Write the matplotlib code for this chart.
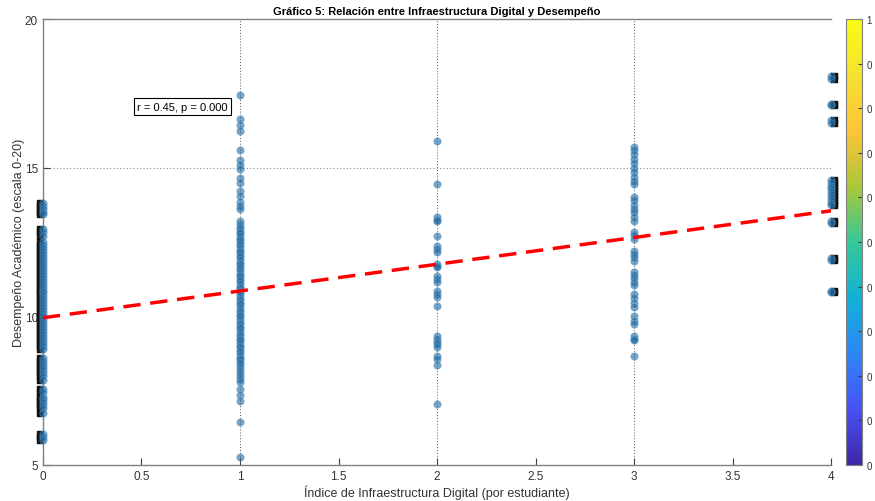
import numpy as np
import matplotlib
matplotlib.use("Agg")
import matplotlib.pyplot as plt
import matplotlib.transforms as mtransforms
from matplotlib.colors import LinearSegmentedColormap

plt.rcParams['font.family'] = ['Liberation Sans', 'DejaVu Sans']

# data
y_idx0 = [13.8, 13.7, 13.6, 13.5, 13.45, 12.95, 12.85, 12.7, 12.5, 12.4, 12.3, 12.2,
          12.1, 12.0, 11.9, 11.8, 11.7, 11.6, 11.5, 11.4, 11.3, 11.2, 11.1, 11.0,
          10.9, 10.8, 10.7, 10.6, 10.5, 10.4, 10.3, 10.2, 10.1, 10.0, 9.9, 9.8,
          9.7, 9.6, 9.5, 9.4, 9.3, 9.2, 9.1, 9.0, 8.9, 8.6, 8.5, 8.4, 8.3, 8.2,
          8.1, 8.0, 7.85, 7.55, 7.45, 7.3, 7.2, 7.1, 7.0, 6.9, 6.75, 6.05, 5.95, 5.85]
y_idx1 = [17.45, 16.65, 16.45, 16.25, 15.6, 15.25, 15.1, 14.95, 14.65, 14.5, 14.2,
          14.05, 13.85, 13.7, 13.6,
          13.2, 13.1, 13.0, 12.95, 12.85, 12.8, 12.7, 12.6, 12.55, 12.45, 12.4, 12.3,
          12.2, 12.15, 12.05, 12.0, 11.9, 11.8, 11.75, 11.65, 11.6, 11.5, 11.4, 11.35,
          11.25, 11.2, 11.1, 11.0, 10.95, 10.85, 10.8, 10.7, 10.6, 10.55, 10.45, 10.4,
          10.3, 10.2, 10.15, 10.05, 10.0, 9.9, 9.8, 9.75, 9.65, 9.6, 9.5, 9.4, 9.35,
          9.25, 9.2, 9.1, 9.0, 8.95, 8.85, 8.8, 8.7, 8.6, 8.55, 8.45, 8.4, 8.3, 8.2,
          8.1, 8.0, 7.9, 7.8, 7.55, 7.35, 7.15, 6.45, 5.25]
y_idx2 = [15.9, 14.45, 13.35, 13.25, 13.2, 12.7, 12.35, 12.25, 12.15, 11.75, 11.7,
          11.65, 11.35, 11.25, 11.15, 10.85, 10.75, 10.65, 10.35, 9.35, 9.25, 9.15,
          9.05, 8.95, 8.65, 8.55, 8.35, 7.05]
y_idx3 = [15.7, 15.6, 15.45, 15.3, 15.15, 15.0, 14.85, 14.7, 14.55, 14.45, 14.0, 13.9,
          13.75, 13.6, 13.5, 13.35, 13.2, 12.85, 12.75, 12.6, 12.2, 12.1, 12.0, 11.85,
          11.5, 11.4, 11.3, 11.15, 11.05, 10.75, 10.6, 10.45, 10.3, 10.0, 9.85, 9.75,
          9.35, 9.25, 9.2, 8.65]
y_idx4 = [18.1, 18.0, 17.15, 17.1, 16.6, 16.5, 14.6, 14.5, 14.4, 14.3, 14.2, 14.1,
          14.0, 13.9, 13.8, 13.75, 13.2, 13.15, 11.95, 11.9, 10.85, 10.8]
groups = {0: y_idx0, 1: y_idx1, 2: y_idx2, 3: y_idx3, 4: y_idx4}

fit_intercept = 9.95
fit_slope = 0.90
fit_x = [0, 4]
annot_text = "r = 0.45, p = 0.000"

x_ticks = [0, 0.5, 1, 1.5, 2, 2.5, 3, 3.5, 4]
y_ticks = [5, 10, 15, 20]

# parula-like colormap
parula = LinearSegmentedColormap.from_list("parula", [
    (0.2422, 0.1504, 0.6603), (0.2810, 0.3228, 0.9579), (0.1786, 0.5289, 0.9682),
    (0.0689, 0.6948, 0.8394), (0.2161, 0.7843, 0.5923), (0.6720, 0.7793, 0.2227),
    (0.9970, 0.7659, 0.2199), (0.9598, 0.8840, 0.1887), (0.9769, 0.9839, 0.0805)])

fig = plt.figure(figsize=(8.75, 5.02), dpi=100)
ax = fig.add_axes([0.049, 0.072, 0.901, 0.888])
cax = fig.add_axes([0.967, 0.072, 0.018, 0.888])

blue = '#1f67a0'
for xv, ys in groups.items():
    xs = np.full(len(ys), xv, dtype=float)
    if xv in (0, 4):
        shift = -2 if xv == 0 else 2
        off = mtransforms.ScaledTranslation(shift / 72, 0, fig.dpi_scale_trans)
        ax.scatter(xs, ys, marker='s', s=14, color='#111111', clip_on=False,
                   transform=ax.transData + off, zorder=2)
    ax.scatter(xs, ys, s=28, facecolor=blue, edgecolor='#5b9bc8', alpha=0.6,
               linewidths=0.6, clip_on=False, zorder=3)

fx = np.array(fit_x, dtype=float)
ax.plot(fx, fit_intercept + fit_slope * fx, color='red', linestyle='--',
        linewidth=2.5, dashes=(5, 2.8), zorder=4)

ax.text(0.48, 17.05, annot_text, fontsize=8, va='center', ha='left',
        bbox=dict(boxstyle='square,pad=0.3', facecolor='white', edgecolor='black',
                  linewidth=0.8), zorder=5)

ax.set_xlim(0, 4)
ax.set_ylim(5, 20)
ax.set_xticks(x_ticks)
ax.set_xticklabels(['0', '0.5', '1', '1.5', '2', '2.5', '3', '3.5', '4'])
ax.set_yticks(y_ticks)
ax.tick_params(direction='in', length=5, colors='#404040', labelsize=8.5,
               labelcolor='#333333', width=0.8)
for xg in [1, 2, 3, 4]:
    ax.axvline(xg, color='#555555', linestyle=(0, (1, 2)), linewidth=0.7, zorder=1)
ax.axhline(15, color='#888888', linestyle=(0, (1, 2)), linewidth=0.8, zorder=1)

for s in ['left', 'bottom', 'top']:
    ax.spines[s].set_color('#808080')
    ax.spines[s].set_linewidth(1.0)
ax.spines['right'].set_visible(False)

ax.set_title('Gráfico 5: Relación entre Infraestructura Digital y Desempeño',
             fontsize=8, fontweight='bold', pad=4)
ax.set_xlabel('Índice de Infraestructura Digital (por estudiante)', fontsize=9,
              color='#333333', labelpad=2)
ax.set_ylabel('Desempeño Académico (escala 0-20)', fontsize=9, color='#333333',
              labelpad=0)

cb = matplotlib.colorbar.ColorbarBase(cax, cmap=parula, orientation='vertical')
cb.set_ticks(np.linspace(0, 1, 11))
cb.set_ticklabels(['0'] * 10 + ['1'])
cax.tick_params(direction='in', length=3, labelsize=7, colors='#404040',
                labelcolor='#333333')
cb.outline.set_edgecolor('#808080')

fig.savefig('out.png', dpi=100)
